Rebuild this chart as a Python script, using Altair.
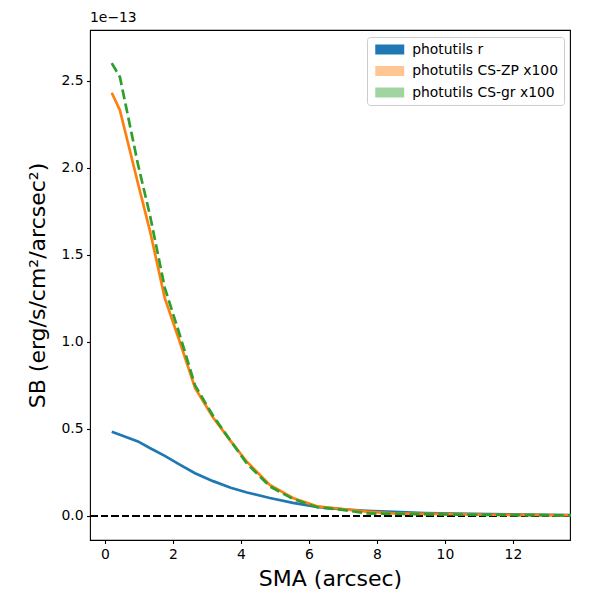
import altair as alt
import pandas as pd

# SMA grid (arcsec)
sma = [0.2, 0.44, 0.97, 1.32, 1.76, 2.2, 2.65, 3.18, 3.7, 4.18, 4.85, 5.53,
       6.24, 7.0, 7.7, 8.5, 9.4, 10.3, 11.3, 12.4, 13.7]

# surface brightness in units of 1e-13 erg/s/cm^2/arcsec^2
sb_r = [0.483, 0.466, 0.428, 0.39, 0.345, 0.295, 0.245, 0.2, 0.162, 0.135, 0.103,
        0.075, 0.052, 0.038, 0.03, 0.023, 0.017, 0.013, 0.01, 0.008, 0.005]
err_r = [0.004, 0.004, 0.003, 0.003, 0.003, 0.002, 0.002, 0.002, 0.002, 0.001, 0.001,
         0.001, 0.001, 0.001, 0.001, 0.001, 0.001, 0.001, 0.001, 0.001, 0.001]

sb_zp = [2.43, 2.33, 1.91, 1.64, 1.25, 1.0, 0.735, 0.565, 0.43, 0.31, 0.178,
         0.103, 0.055, 0.04, 0.025, 0.015, 0.012, 0.01, 0.007, 0.006, 0.004]
err_zp = [0.055, 0.045, 0.022, 0.016, 0.013, 0.011, 0.009, 0.008, 0.006, 0.005, 0.004,
          0.003, 0.003, 0.003, 0.003, 0.002, 0.002, 0.002, 0.002, 0.002, 0.002]

sb_gr = [2.60, 2.52, 2.02, 1.73, 1.31, 1.04, 0.75, 0.575, 0.43, 0.30, 0.17,
         0.098, 0.05, 0.035, 0.015, 0.012, 0.01, 0.008, 0.006, 0.005, 0.003]
err_gr = [0.065, 0.05, 0.027, 0.022, 0.017, 0.015, 0.012, 0.01, 0.009, 0.008, 0.006,
          0.005, 0.004, 0.004, 0.003, 0.003, 0.003, 0.003, 0.003, 0.003, 0.003]

labels = ["photutils r", "photutils CS-ZP x100", "photutils CS-gr x100"]
band_colors = ["#1f77b4", "#ffc592", "#a0d4a0"]
line_colors = ["#1f77b4", "#ff7f0e", "#2ca02c"]

rows = []
for lab, vals, errs in zip(labels, [sb_r, sb_zp, sb_gr], [err_r, err_zp, err_gr]):
    for x, v, e in zip(sma, vals, errs):
        rows.append({"series": lab, "sma": x, "sb": v, "lo": v - e, "hi": v + e})
df = pd.DataFrame(rows)

FONT = "DejaVu Sans"

xscale = alt.Scale(domain=[-0.44, 13.68], nice=False, zero=False)
yscale = alt.Scale(domain=[-0.138, 2.79], nice=False, zero=False)

xaxis = alt.Axis(title="SMA (arcsec)", values=[0, 2, 4, 6, 8, 10, 12], format="d",
                 grid=False, labelFlush=False, labelOverlap=False, titlePadding=8)
yaxis = alt.Axis(title="SB (erg/s/cm²/arcsec²)", values=[0, 0.5, 1.0, 1.5, 2.0, 2.5],
                 format=".1f", grid=False, labelOverlap=False, titlePadding=11)

base = alt.Chart(df)

bands = base.mark_area(opacity=1).encode(
    x=alt.X("sma:Q", scale=xscale, axis=xaxis),
    y=alt.Y("lo:Q", scale=yscale, axis=yaxis),
    y2="hi:Q",
    color=alt.Color("series:N",
                    scale=alt.Scale(domain=labels, range=band_colors),
                    sort=labels,
                    legend=alt.Legend(
                        title=None, orient="none", legendX=277, legendY=7,
                        symbolType="M-2,-0.69L2,-0.69L2,0.69L-2,0.69Z",
                        symbolSize=210, symbolOffset=10.25, symbolStrokeWidth=0,
                        labelFont=FONT, labelFontSize=13.9, labelColor="black",
                        labelOffset=15, padding=5, rowPadding=6.5,
                        strokeColor="#cccccc", cornerRadius=3, fillColor="white")),
    order=alt.Order("sma:Q"),
)

zero_line = alt.Chart(df).mark_rule(color="black", strokeWidth=2, strokeDash=[7, 3.5]).encode(
    y=alt.datum(0, scale=yscale)
)

def line_layer(i, dash=None):
    kw = dict(color=line_colors[i], strokeWidth=2.7)
    if dash:
        kw["strokeDash"] = dash
    return base.transform_filter(alt.datum.series == labels[i]).mark_line(**kw).encode(
        x=alt.X("sma:Q", scale=xscale),
        y=alt.Y("sb:Q", scale=yscale),
        order=alt.Order("sma:Q"),
    )

chart = alt.layer(
    bands,
    zero_line,
    line_layer(0),
    line_layer(1),
    line_layer(2, dash=[10, 4.4]),
).properties(
    width=480,
    height=510,
    padding={"left": 82, "top": 22, "right": 22, "bottom": 52},
    autosize=alt.AutoSizeParams(type="none"),
    title=alt.TitleParams(text="1e−13", anchor="start", frame="group", font=FONT,
                          fontSize=13.9, fontWeight="normal", color="black", offset=5),
).configure_view(
    stroke="black", strokeWidth=1.1
).configure_axis(
    labelFont=FONT, labelFontSize=13.9, labelColor="black",
    titleFont=FONT, titleFontSize=22, titleFontWeight="normal", titleColor="black",
    tickColor="black", tickSize=3.5, tickWidth=1.1, labelPadding=3.5,
    domain=False,
)

chart.save("out.html", embed_options={"renderer": "svg", "actions": False})
